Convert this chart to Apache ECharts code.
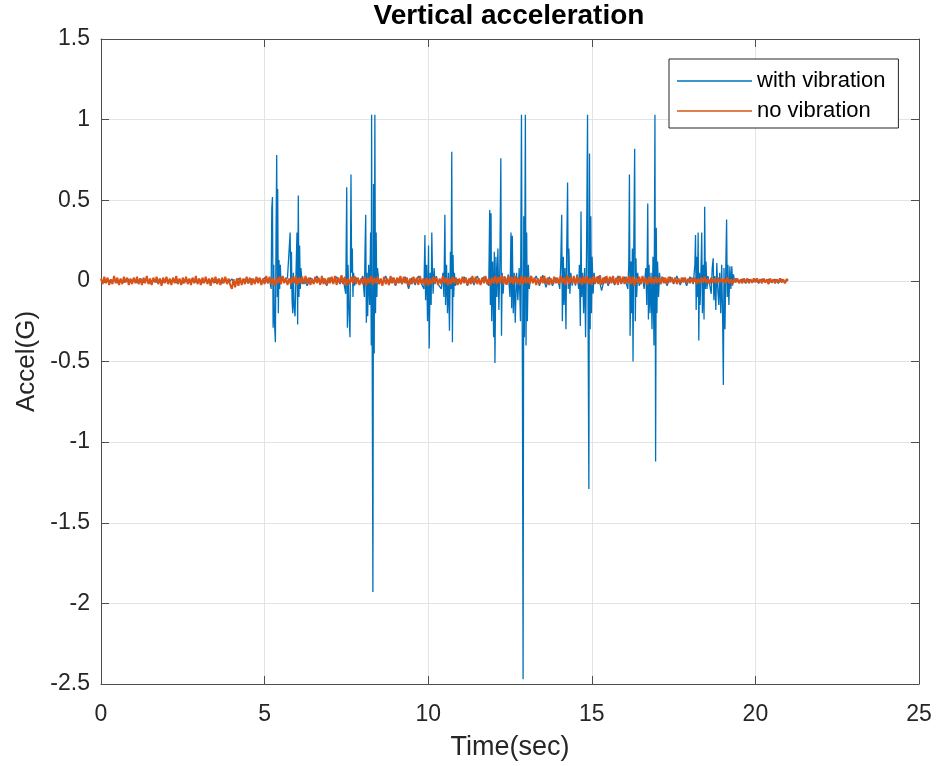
<!DOCTYPE html>
<html>
<head>
<meta charset="utf-8">
<title>Vertical acceleration</title>
<style>
  html, body { margin: 0; padding: 0; background: #fff; }
  #main { width: 939px; height: 766px; }
</style>
</head>
<body>
<div id="main"></div>
<script src="https://cdn.jsdelivr.net/npm/echarts@6/dist/echarts.min.js"></script>
<script>
// tick labels
var xTicks = [0, 5, 10, 15, 20, 25];
var yTicks = [-2.5, -2, -1.5, -1, -0.5, 0, 0.5, 1, 1.5];

// with vibration: [time(sec), accel(G)]
var withVibration = [
  [0,0.005],[0.1,-0.01],[0.2,0.012],[0.3,-0.008],[0.4,0.01],[0.5,-0.012],[0.6,0.008],[0.7,-0.01],[0.8,0.015],[0.9,-0.005],
  [1.0,0.01],[1.1,-0.012],[1.2,0.015],[1.3,-0.01],[1.4,0.008],[1.5,-0.015],[1.6,0.01],[1.7,-0.008],[1.8,0.012],[1.9,-0.01],
  [2.0,0.015],[2.1,-0.01],[2.2,0.01],[2.3,-0.012],[2.4,0.008],[2.5,-0.015],[2.6,0.012],[2.7,-0.01],[2.8,0.015],[2.9,-0.008],
  [3.0,0.01],[3.1,-0.012],[3.2,0.008],[3.3,-0.01],[3.4,0.015],[3.5,-0.01],[3.6,0.012],[3.7,-0.015],[3.8,0.01],[3.9,-0.01],
  [4.0,0.012],[4.1,-0.02],[4.2,0.015],[4.3,-0.012],[4.4,0.01],[4.5,-0.015],[4.6,0.012],[4.7,-0.01],[4.8,0.015],[4.9,-0.012],
  [5.0,0.02],[5.1,-0.015],
  // burst 1
  [5.15,0.01],[5.20,-0.05],[5.22,0.45],[5.24,0.52],[5.26,-0.29],[5.28,0.10],[5.30,-0.25],[5.33,-0.38],[5.35,0.30],[5.37,0.78],
  [5.39,-0.10],[5.40,0.57],[5.42,-0.20],[5.44,0.13],[5.46,-0.05],[5.48,0.10],[5.50,-0.02],[5.55,0.03],[5.60,-0.01],[5.70,0.02],
  [5.78,0.30],[5.80,-0.05],[5.82,0.18],[5.84,-0.12],[5.86,-0.20],[5.88,0.05],[5.90,-0.15],[5.93,-0.22],[5.96,0.05],[5.99,0.30],
  [6.01,-0.27],[6.03,0.53],[6.05,-0.10],[6.07,0.22],[6.09,-0.05],[6.11,0.08],[6.15,-0.02],
  [6.2,0.01],[6.3,-0.03],[6.4,0.02],[6.5,-0.015],[6.6,0.03],[6.7,-0.02],[6.8,0.015],[6.9,-0.03],[7.0,0.02],[7.1,-0.015],
  [7.2,0.025],[7.3,-0.02],[7.4,0.015],
  // burst 2
  [7.45,0.02],[7.48,-0.08],[7.51,0.58],[7.53,-0.29],[7.55,0.10],[7.58,-0.20],[7.61,-0.35],[7.64,0.66],[7.66,0.05],[7.68,0.20],
  [7.70,-0.10],[7.72,0.05],[7.75,-0.03],[7.8,0.02],[7.9,-0.02],[8.0,0.03],[8.05,-0.10],[8.07,0.20],[8.09,0.41],[8.11,-0.26],
  [8.13,0.05],[8.15,-0.22],[8.18,0.10],[8.21,-0.15],[8.24,0.30],[8.26,-0.40],[8.27,1.03],[8.29,-0.55],[8.31,-1.93],[8.33,0.60],
  [8.35,-0.45],[8.37,1.03],[8.39,-0.20],[8.41,0.30],[8.43,-0.10],[8.45,0.08],[8.5,-0.02],[8.55,0.01],
  [8.6,-0.02],[8.7,0.03],[8.8,-0.025],[8.9,0.02],[9.0,-0.03],[9.1,0.015],[9.2,-0.02],[9.3,0.025],[9.4,-0.05],[9.5,0.02],
  [9.6,-0.025],[9.7,0.03],[9.8,-0.02],
  // burst 3
  [9.87,-0.05],[9.90,0.285],[9.92,-0.12],[9.95,0.10],[9.98,-0.25],[10.01,0.22],[10.03,-0.42],[10.06,0.05],[10.09,-0.15],[10.11,0.30],
  [10.13,0.05],[10.15,-0.08],[10.18,0.08],[10.21,-0.02],[10.25,0.03],[10.3,-0.02],[10.4,-0.05],[10.45,0.05],[10.48,-0.10],[10.51,0.41],
  [10.53,-0.15],[10.56,0.10],[10.59,-0.20],[10.62,0.05],[10.65,-0.31],[10.68,0.18],[10.70,-0.05],[10.72,0.80],[10.74,-0.38],[10.76,0.16],
  [10.78,-0.10],[10.80,0.05],[10.83,-0.03],[10.9,0.01],
  [11.0,-0.02],[11.1,0.025],[11.2,-0.03],[11.3,0.02],[11.4,-0.025],[11.5,0.03],[11.6,-0.02],[11.7,0.025],[11.8,-0.015],
  // burst 4
  [11.85,-0.03],[11.88,0.44],[11.90,-0.15],[11.92,0.42],[11.94,-0.25],[11.97,0.12],[12.00,-0.35],[12.02,0.18],[12.04,-0.51],[12.07,0.15],
  [12.10,-0.10],[12.13,0.20],[12.16,-0.18],[12.19,0.10],[12.22,0.76],[12.24,-0.34],[12.26,0.05],[12.29,-0.08],[12.32,0.03],[12.38,-0.02],
  [12.45,0.04],[12.50,-0.10],[12.53,0.30],[12.55,-0.17],[12.57,0.28],[12.60,-0.20],[12.63,0.05],[12.66,-0.26],[12.70,0.05],[12.74,-0.12],
  [12.78,0.08],[12.82,-0.25],[12.85,1.03],[12.88,-0.60],[12.90,-2.47],[12.92,0.40],[12.94,-0.35],[12.97,1.03],[12.99,-0.40],[13.01,0.30],
  [13.03,-0.25],[13.06,0.10],[13.09,-0.05],[13.13,0.03],[13.2,-0.01],
  [13.3,0.03],[13.4,-0.03],[13.5,0.035],[13.6,-0.04],[13.7,0.025],[13.8,-0.03],[13.9,0.02],[14.0,-0.025],
  // burst 5
  [14.02,-0.05],[14.05,0.10],[14.08,0.41],[14.10,-0.25],[14.13,0.15],[14.15,-0.15],[14.18,0.08],[14.21,-0.30],[14.23,0.15],[14.26,0.61],
  [14.28,-0.05],[14.30,0.20],[14.33,-0.08],[14.36,0.05],[14.40,-0.03],[14.45,0.02],[14.5,-0.03],[14.55,0.04],[14.60,-0.05],[14.62,0.10],
  [14.65,-0.28],[14.67,0.43],[14.69,-0.10],[14.72,0.05],[14.75,-0.20],[14.78,0.08],[14.81,-0.35],[14.84,0.20],[14.87,1.03],[14.89,-0.40],
  [14.91,-1.29],[14.93,0.79],[14.95,-0.30],[14.97,0.40],[14.99,-0.20],[15.01,0.15],[15.04,-0.08],[15.07,0.05],[15.1,-0.02],
  [15.2,0.03],[15.3,-0.06],[15.4,0.025],[15.5,-0.03],[15.6,0.02],[15.7,-0.025],[15.8,0.03],[15.9,-0.02],[16.0,0.025],
  // burst 6
  [16.10,-0.05],[16.13,0.10],[16.15,0.66],[16.17,-0.34],[16.20,0.12],[16.22,-0.20],[16.24,0.20],[16.26,-0.50],[16.28,0.15],[16.31,0.82],
  [16.33,-0.25],[16.35,0.14],[16.37,-0.10],[16.40,0.05],[16.45,-0.03],[16.55,0.02],[16.6,-0.05],[16.65,0.08],[16.68,-0.15],[16.71,0.48],
  [16.73,-0.24],[16.75,0.10],[16.78,-0.20],[16.81,0.05],[16.84,-0.30],[16.87,0.15],[16.90,-0.40],[16.93,1.03],[16.95,-1.12],[16.97,0.33],
  [16.99,-0.20],[17.01,0.12],[17.04,-0.10],[17.07,0.05],[17.1,-0.02],
  [17.2,0.02],[17.3,-0.03],[17.4,0.025],[17.5,-0.02],[17.6,0.03],[17.7,-0.025],[17.8,0.02],[17.9,-0.03],[18.0,0.025],[18.1,-0.02],
  // burst 7
  [18.12,-0.03],[18.15,0.10],[18.17,0.285],[18.19,-0.18],[18.21,0.15],[18.23,-0.10],[18.25,0.30],[18.27,-0.37],[18.29,0.05],[18.31,-0.15],
  [18.34,0.10],[18.36,0.30],[18.38,-0.20],[18.41,0.10],[18.43,-0.24],[18.45,0.46],[18.47,-0.05],[18.49,0.12],[18.52,-0.05],[18.55,0.03],
  [18.6,-0.02],[18.65,-0.08],[18.68,0.08],[18.71,0.14],[18.73,-0.12],[18.76,0.03],[18.79,-0.18],[18.82,0.11],[18.85,-0.05],[18.88,-0.15],
  [18.91,0.05],[18.94,-0.20],[18.97,0.10],[19.00,-0.25],[19.02,-0.645],[19.04,0.08],[19.07,-0.30],[19.10,0.15],[19.12,0.38],[19.14,-0.10],
  [19.16,0.10],[19.19,-0.15],[19.22,0.09],[19.25,-0.05],[19.28,0.09],[19.30,-0.03],[19.33,0.04],[19.37,-0.01],
  [19.4,0.015],[19.5,-0.01],[19.6,0.012],[19.7,-0.015],[19.8,0.01],[19.9,-0.012],[20.0,0.01],[20.1,-0.015],[20.2,0.012],[20.3,-0.01],
  [20.4,0.01],[20.5,-0.012],[20.6,0.01],[20.7,-0.015],[20.8,0.01],[20.9,-0.01],[21.0,0.005]
];

// no vibration: one reading every 0.05 s from 0 to 21 s (one row per second)
var noVibStep = 0.05;
var noVibration = [
  0.015,-0.02,0.025,-0.015,0.02,-0.025,0.01,-0.02,0.03,-0.015,0.02,-0.025,0.015,-0.02,0.025,-0.01,0.02,-0.025,0.015,-0.02,
  0.02,-0.015,0.025,-0.02,0.015,-0.025,0.02,-0.015,0.03,-0.02,0.015,-0.025,0.02,-0.01,0.025,-0.02,0.015,-0.03,0.02,-0.015,
  0.025,-0.02,0.015,-0.025,0.02,-0.015,0.03,-0.02,0.015,-0.025,0.02,-0.015,0.025,-0.02,0.015,-0.025,0.02,-0.015,0.03,-0.02,
  0.015,-0.025,0.02,-0.015,0.025,-0.02,0.015,-0.03,0.02,-0.015,0.025,-0.02,0.015,-0.025,0.02,-0.015,0.025,-0.02,0.015,-0.025,
  -0.05,0.01,-0.04,0.015,-0.03,0.02,-0.025,0.015,-0.02,0.025,-0.015,0.02,-0.025,0.015,-0.02,0.025,-0.015,0.02,-0.025,0.015,
  -0.02,0.03,-0.015,0.025,-0.02,0.015,-0.03,0.02,-0.015,0.025,-0.02,0.03,-0.015,0.02,-0.025,0.015,-0.02,0.025,-0.015,0.03,
  -0.025,0.02,-0.015,0.025,-0.02,0.03,-0.015,0.02,-0.025,0.015,-0.02,0.025,-0.015,0.02,-0.025,0.03,-0.02,0.015,-0.025,0.02,
  -0.015,0.025,-0.02,0.03,-0.025,0.02,-0.015,0.035,-0.02,0.025,-0.03,0.015,-0.02,0.025,-0.015,0.03,-0.02,0.02,-0.025,0.015,
  -0.02,0.025,-0.03,0.02,-0.015,0.03,-0.025,0.02,-0.015,0.025,-0.02,0.015,-0.03,0.025,-0.02,0.015,-0.025,0.03,-0.015,0.02,
  -0.025,0.02,-0.015,0.03,-0.02,0.025,-0.015,0.02,-0.03,0.015,-0.02,0.025,-0.015,0.02,-0.025,0.03,-0.02,0.015,-0.025,0.02,
  -0.03,0.015,-0.02,0.025,-0.015,0.02,-0.025,0.015,-0.02,0.03,-0.015,0.02,-0.025,0.015,-0.02,0.025,-0.015,0.02,-0.025,0.015,
  -0.02,0.025,-0.015,0.02,-0.025,0.015,-0.02,0.03,-0.015,0.025,-0.02,0.015,-0.025,0.02,-0.015,0.03,-0.02,0.015,-0.025,0.02,
  -0.015,0.03,-0.02,0.025,-0.015,0.035,-0.02,0.025,-0.025,0.03,-0.015,0.025,-0.02,0.03,-0.015,0.02,-0.025,0.03,-0.02,0.025,
  -0.015,0.025,-0.02,0.03,-0.015,0.02,-0.025,0.015,-0.02,0.025,-0.015,0.03,-0.02,0.02,-0.025,0.015,-0.02,0.025,-0.015,0.02,
  -0.02,0.03,-0.015,0.02,-0.025,0.035,-0.02,0.025,-0.015,0.03,-0.02,0.025,-0.015,0.02,-0.025,0.03,-0.015,0.025,-0.02,0.02,
  -0.025,0.03,-0.015,0.025,-0.02,0.035,-0.025,0.02,-0.015,0.03,-0.02,0.025,-0.015,0.03,-0.02,0.02,-0.025,0.03,-0.015,0.025,
  -0.02,0.025,-0.015,0.03,-0.02,0.025,-0.03,0.02,-0.015,0.025,-0.02,0.03,-0.015,0.02,-0.025,0.025,-0.015,0.02,-0.02,0.025,
  -0.015,0.02,-0.02,0.025,-0.015,0.02,-0.02,0.025,-0.01,0.02,-0.015,0.02,-0.02,0.015,-0.015,0.02,-0.01,0.02,-0.015,0.015,
  -0.015,0.02,-0.01,0.02,-0.02,0.015,-0.015,0.02,-0.01,0.025,-0.015,0.015,-0.02,0.02,-0.01,0.015,-0.015,0.02,-0.01,0.015,
  -0.01,0.015,-0.015,0.02,-0.015,0.01,-0.02,0.015,-0.01,0.015,-0.015,0.01,-0.015,0.015,-0.01,0.015,-0.015,0.01,-0.01,0.015,
  -0.01,0.015,-0.01,0.01,-0.015,0.015,-0.01,0.01,-0.02,0.015,-0.01,0.01,-0.015,0.01,-0.01,0.015,-0.01,0.01,-0.015,0.01,
  0.005
];

var noVibPairs = noVibration.map(function (v, i) {
  return [+(i * noVibStep).toFixed(2), v];
});

var fontFam = '"Liberation Sans", Arial, Helvetica, sans-serif';
var axisCol = '#262626';
var lineCol = '#4d4d4d';
var gridCol = '#e3e3e3';

var myChart = echarts.init(document.getElementById('main'));

var option = {
  backgroundColor: '#fff',
  animation: false,
  textStyle: { fontFamily: fontFam },
  graphic: [{
    type: 'text',
    x: 509, y: 16,
    style: {
      text: 'Vertical acceleration',
      fontFamily: fontFam, fontSize: 28, fontWeight: 'bold',
      fill: '#000', textAlign: 'center', textVerticalAlign: 'middle'
    }
  }],
  legend: {
    orient: 'vertical',
    left: 669, top: 59,
    padding: [11, 13, 6, 8],
    itemGap: 8,
    itemWidth: 75, itemHeight: 1.5,
    icon: 'rect',
    backgroundColor: '#fff',
    borderColor: axisCol, borderWidth: 1,
    textStyle: { fontSize: 22, color: '#000', fontFamily: fontFam },
    data: ['with vibration', 'no vibration']
  },
  grid: { left: 101, top: 39, width: 818, height: 645, containLabel: false },
  xAxis: [{
    type: 'value', min: 0, max: 25, interval: 5,
    name: 'Time(sec)', nameLocation: 'middle', nameGap: 50,
    nameTextStyle: { fontSize: 27, color: axisCol, fontFamily: fontFam },
    axisLine: { onZero: false, lineStyle: { color: lineCol, width: 1 } },
    axisTick: { inside: true, length: 8, lineStyle: { color: lineCol } },
    axisLabel: {
      fontSize: 23, color: axisCol, margin: 19, fontFamily: fontFam,
      formatter: function (v) { return xTicks.indexOf(v) >= 0 ? String(v) : ''; }
    },
    splitLine: { show: true, lineStyle: { color: gridCol, width: 1 } }
  }, {
    type: 'value', min: 0, max: 25, interval: 5, position: 'top',
    axisLine: { onZero: false, lineStyle: { color: lineCol, width: 1 } },
    axisTick: { inside: true, length: 8, lineStyle: { color: lineCol } },
    axisLabel: { show: false }, splitLine: { show: false }
  }],
  yAxis: [{
    type: 'value', min: -2.5, max: 1.5, interval: 0.5,
    name: 'Accel(G)', nameLocation: 'middle', nameGap: 61,
    nameTextStyle: { fontSize: 26, color: axisCol, fontFamily: fontFam },
    axisLine: { show: true, onZero: false, lineStyle: { color: lineCol, width: 1 } },
    axisTick: { show: true, inside: true, length: 8, lineStyle: { color: lineCol } },
    axisLabel: {
      fontSize: 23, color: axisCol, margin: 11, fontFamily: fontFam,
      formatter: function (v) {
        var r = Math.round(v * 10) / 10;
        return yTicks.indexOf(r) >= 0 ? String(r) : '';
      }
    },
    splitLine: { show: true, lineStyle: { color: gridCol, width: 1 } }
  }, {
    type: 'value', min: -2.5, max: 1.5, interval: 0.5, position: 'right',
    axisLine: { show: true, onZero: false, lineStyle: { color: lineCol, width: 1 } },
    axisTick: { show: true, inside: true, length: 8, lineStyle: { color: lineCol } },
    axisLabel: { show: false }, splitLine: { show: false }
  }],
  series: [{
    name: 'with vibration',
    type: 'line',
    data: withVibration,
    showSymbol: false, symbol: 'none',
    color: '#0072BD',
    lineStyle: { color: '#0072BD', width: 1.3 }
  }, {
    name: 'no vibration',
    type: 'line',
    data: noVibPairs,
    showSymbol: false, symbol: 'none',
    color: '#D95319',
    lineStyle: { color: '#D95319', width: 2 }
  }]
};

myChart.setOption(option);
</script>
</body>
</html>
